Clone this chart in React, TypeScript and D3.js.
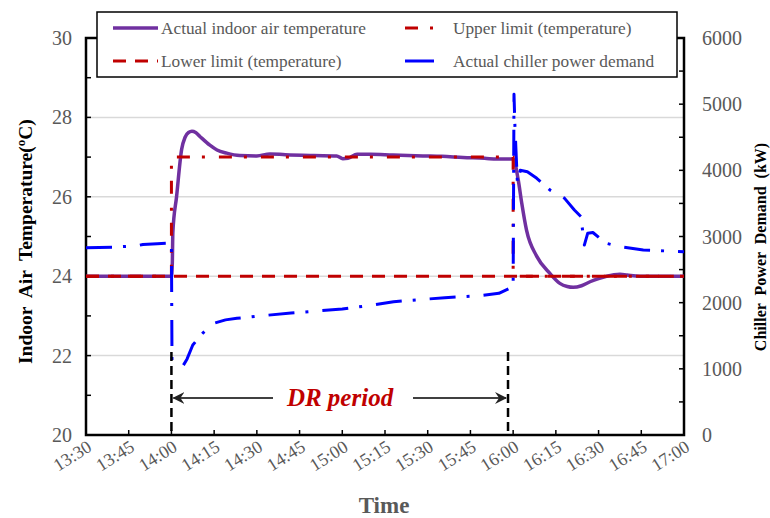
import React from "react";
import * as d3 from "d3";

const timeLabels = ["13:30","13:45","14:00","14:15","14:30","14:45","15:00","15:15","15:30","15:45","16:00","16:15","16:30","16:45","17:00"];
const tempTicks = [20, 22, 24, 26, 28, 30];
const powerTicks = [0, 1000, 2000, 3000, 4000, 5000, 6000];

// minutes since 13:30
const tempMin = [0,30,30.3,30.5,31.8,33.6,34.8,36,37.2,38.5,40,43.5,46,49.4,54,60,64.6,70,80,88,90.2,92,95.2,100,107.8,118.3,125,132.4,140,144.3,150,151.8,153,154.7,158.3,162.9,166.4,169,171.1,174,177,180,182.8,187.5,190,194.5,210];
const tempVal = [24,24,24.3,25.1,26.0,27.2,27.5,27.62,27.65,27.62,27.52,27.3,27.18,27.1,27.04,27.03,27.08,27.06,27.04,27.03,26.96,26.97,27.07,27.07,27.05,27.03,27.02,26.99,26.97,26.95,26.95,26.42,25.85,25.16,24.5,24.07,23.82,23.74,23.72,23.76,23.86,23.94,24.0,24.05,24.03,24.0,24.0];

const upperMin = [0,30,30,150,150,210];
const upperVal = [24,24,27,27,24,24];
const lowerMin = [0,210];
const lowerVal = [24,24];

const powerMin = [0,10,18,20,25,29.8,30,30.2,32,34,35.5,37.5,41,45,49,53,57,60,72,80,90,100,108,120,126,138,145,149.5,150,150.3,150.6,151,151.5,152.5,155,158.3,163,168,171.5,173.8,175,176.2,178,182.5,187.5,195.7,210];
const powerVal = [2830,2840,2860,2880,2890,2900,2880,1130,1100,1040,1150,1360,1540,1690,1740,1765,1780,1795,1844,1870,1904,1960,2015,2055,2075,2105,2141,2232,2250,5150,4700,4300,3800,4000,3980,3880,3700,3580,3400,3300,2870,3050,3060,2900,2846,2796,2770];

const drStart = 30;
const drEnd = 148.2;

const FONT = "'Liberation Serif', 'Times New Roman', serif";
const GRAY = "#595959";
const PURPLE = "#7030A0";
const RED = "#C00000";
const BLUE = "#0000FF";

export default function App() {
  const L = 86, R = 684, T = 38, B = 435;
  const x = d3.scaleLinear().domain([0, 210]).range([L, R]);
  const yT = d3.scaleLinear().domain([20, 30]).range([B, T]);
  const yP = d3.scaleLinear().domain([0, 6000]).range([B, T]);

  const lineT = d3.line<[number, number]>().x(d => x(d[0])).y(d => yT(d[1]));
  const lineTs = d3.line<[number, number]>().x(d => x(d[0])).y(d => yT(d[1])).curve(d3.curveMonotoneX);
  const lineP = d3.line<[number, number]>().x(d => x(d[0])).y(d => yP(d[1]));

  const tempData = tempMin.map((m, i) => [m, tempVal[i]] as [number, number]);
  const upperData = upperMin.map((m, i) => [m, upperVal[i]] as [number, number]);
  const lowerData = lowerMin.map((m, i) => [m, lowerVal[i]] as [number, number]);
  const powerData = powerMin.map((m, i) => [m, powerVal[i]] as [number, number]);

  const minorT = d3.range(20, 30.001, 1);
  const minorP = d3.range(0, 6000.1, 500);
  const xTicks = timeLabels.map((_, i) => i * 15);

  const arrowY = 398;
  const ax1 = x(drStart) + 2, ax2 = x(drEnd) - 2;

  return (
    <svg width={770} height={518} style={{ position: "absolute", left: 0, top: 0 }} fontFamily={FONT}>
      <defs>
        <marker id="arr" viewBox="0 0 12 12" refX="11" refY="6" markerWidth="12" markerHeight="12" markerUnits="userSpaceOnUse" orient="auto-start-reverse">
          <path d="M0,0 L12,6 L0,12 L4,6 Z" fill="#222" />
        </marker>
      </defs>
      <rect x={0} y={0} width={770} height={518} fill="#fff" />
      {/* grid */}
      {[22, 24, 26, 28].map(v => (
        <line key={v} x1={L} x2={R} y1={yT(v)} y2={yT(v)} stroke="#d9d9d9" strokeWidth={1.5} />
      ))}
      {/* frame */}
      <rect x={L} y={T} width={R - L} height={B - T} fill="none" stroke="#000" strokeWidth={2.5} />
      {/* ticks */}
      {minorT.map(v => (
        <line key={"lt" + v} x1={L} x2={L + 5} y1={yT(v)} y2={yT(v)} stroke="#000" strokeWidth={1.5} />
      ))}
      {minorP.map(v => (
        <line key={"rt" + v} x1={R} x2={R - 5} y1={yP(v)} y2={yP(v)} stroke="#000" strokeWidth={1.5} />
      ))}
      {xTicks.map(v => (
        <line key={"xt" + v} x1={x(v)} x2={x(v)} y1={B} y2={B - 5} stroke="#000" strokeWidth={1.5} />
      ))}
      {/* tick labels */}
      {tempTicks.map(v => (
        <text key={"ltl" + v} x={72} y={yT(v)} dy="0.35em" textAnchor="end" fontSize={20} fill={GRAY}>{v}</text>
      ))}
      {powerTicks.map(v => (
        <text key={"rtl" + v} x={702} y={yP(v)} dy="0.35em" textAnchor="start" fontSize={20} fill={GRAY}>{v}</text>
      ))}
      {timeLabels.map((t, i) => (
        <text key={"xl" + t} transform={`translate(${x(xTicks[i]) + 7},${B + 15}) rotate(-32)`} textAnchor="end" fontSize={18} fill={GRAY}>{t}</text>
      ))}
      {/* axis titles */}
      <text transform="translate(32,364) rotate(-90)" textAnchor="start" fontSize={19.5} fontWeight="bold" fill="#000" xmlSpace="preserve">
        {"Indoor  Air  Temperature("}<tspan dy="-7" fontSize={13}>o</tspan><tspan dy="7">C)</tspan>
      </text>
      <text transform="translate(766,247) rotate(-90)" textAnchor="middle" fontSize={16} fontWeight="bold" fill="#000" xmlSpace="preserve">
        {"Chiller  Power  Demand  (kW)"}
      </text>
      <text x={384} y={513} textAnchor="middle" fontSize={23} fontWeight="bold" fill={GRAY}>Time</text>

      {/* series */}
      <path d={lineTs(tempData) || ""} fill="none" stroke={PURPLE} strokeWidth={3.5} strokeLinejoin="round" />
      <path d={lineT(lowerData) || ""} fill="none" stroke={RED} strokeWidth={3} strokeDasharray="13,9" />
      <path d={lineT(upperData) || ""} fill="none" stroke={RED} strokeWidth={3} strokeDasharray="13,12,3,14" />
      <path d={lineP(powerData) || ""} fill="none" stroke={BLUE} strokeWidth={3} strokeDasharray="26,11,3,14" strokeLinejoin="round" />

      {/* DR annotation */}
      <line x1={x(drStart)} x2={x(drStart)} y1={352} y2={B} stroke="#000" strokeWidth={2.5} strokeDasharray="9,5" />
      <line x1={x(drEnd)} x2={x(drEnd)} y1={352} y2={B} stroke="#000" strokeWidth={2.5} strokeDasharray="9,5" />
      <line x1={273} x2={ax1} y1={arrowY} y2={arrowY} stroke="#404040" strokeWidth={2} markerEnd="url(#arr)" />
      <line x1={413} x2={ax2} y1={arrowY} y2={arrowY} stroke="#404040" strokeWidth={2} markerEnd="url(#arr)" />
      <text x={340} y={arrowY + 8} textAnchor="middle" fontSize={25} fontWeight="bold" fontStyle="italic" fill={RED}>DR period</text>

      {/* legend */}
      <rect x={97} y={12} width={580} height={65} fill="#fff" stroke="#000" strokeWidth={1.5} />
      <line x1={113} x2={158} y1={28} y2={28} stroke={PURPLE} strokeWidth={3.5} />
      <text x={161} y={28} dy="0.35em" fontSize={17.3} fill={GRAY}>Actual indoor air temperature</text>
      <line x1={113} x2={158} y1={61} y2={61} stroke={RED} strokeWidth={3} strokeDasharray="13,9" />
      <text x={161} y={61} dy="0.35em" fontSize={17.3} fill={GRAY}>Lower limit (temperature)</text>
      <line x1={405} x2={434} y1={28} y2={28} stroke={RED} strokeWidth={3} strokeDasharray="13,12,3,14" />
      <text x={453} y={28} dy="0.35em" fontSize={17.3} fill={GRAY}>Upper limit (temperature)</text>
      <line x1={405} x2={434} y1={61} y2={61} stroke={BLUE} strokeWidth={3} />
      <text x={453} y={61} dy="0.35em" fontSize={17.3} fill={GRAY}>Actual chiller power demand</text>
    </svg>
  );
}
